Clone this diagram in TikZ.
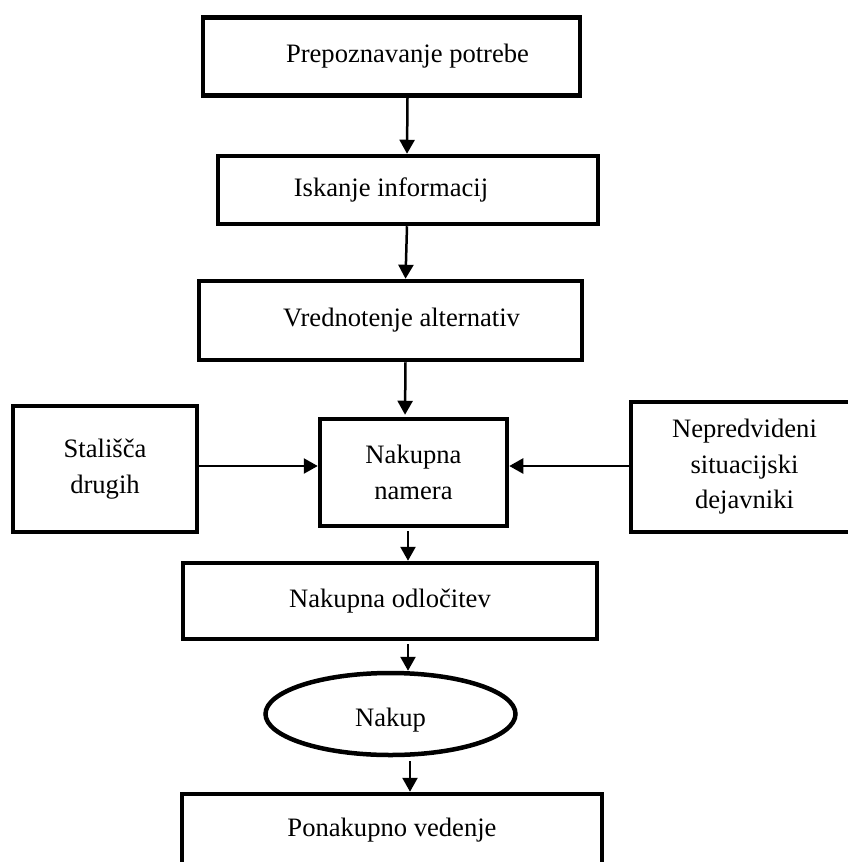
\documentclass[tikz,border=0pt]{standalone}
\usepackage{fontspec}
\setmainfont{Liberation Serif}
\usetikzlibrary{arrows.meta,shapes.geometric}
\begin{document}
\begin{tikzpicture}[x=1pt,y=-1pt,
  box/.style={draw, line width=4.5pt, inner sep=0pt, font=\fontsize{26.6pt}{35.5pt}\selectfont},
  mbox/.style={box, align=center},
  oval/.style={ellipse, draw, line width=4.5pt, inner sep=0pt, font=\fontsize{26.6pt}{35.5pt}\selectfont},
  arr/.style={line width=2.5pt, -{Triangle[length=14pt,width=15pt]}}]
\useasboundingbox (0,0) rectangle (848,862);
\clip (0,0) rectangle (848,862);
\fill[white] (0,0) rectangle (848,862);

\node[box, minimum width=377pt, minimum height=78pt] (b1) at (391.5,56.5) {\hspace*{32pt}Prepoznavanje potrebe};
\node[box, minimum width=380pt, minimum height=68pt] (b2) at (408,190) {Iskanje informacij\hspace*{34pt}};
\node[box, minimum width=383pt, minimum height=79pt] (b3) at (390.5,320.5) {\hspace*{22pt}Vrednotenje alternativ};
\node[mbox, minimum width=184pt, minimum height=126pt] (b4) at (105,469) {Stališča\\drugih};
\node[mbox, minimum width=187pt, minimum height=107pt] (b5) at (413.5,472.5) {Nakupna\\namera};
\node[mbox, minimum width=227pt, minimum height=130pt] (b6) at (744.5,467) {Nepredvideni\\situacijski\\dejavniki};
\node[box, minimum width=414pt, minimum height=76pt] (b7) at (390,601) {Nakupna odločitev};
\node[oval, minimum width=250pt, minimum height=82pt, text height=25.6pt, text depth=0pt] (e8) at (390.5,714) {Nakup};
\node[box, minimum width=420pt, minimum height=72pt] (b9) at (392,830) {Ponakupno vedenje};

\draw[arr] ([xshift=16pt]b1.south) -- ([xshift=-1pt]b2.north);
\draw[arr] ([xshift=-1pt]b2.south) -- ([xshift=15pt]b3.north);
\draw[arr, shorten >=2pt] ([xshift=15pt]b3.south) -- ([xshift=-8.5pt]b5.north);
\draw[arr] ([yshift=3pt]b4.east) -- ([yshift=6.5pt]b5.west);
\draw[arr] ([yshift=1pt]b6.west) -- ([yshift=6.5pt]b5.east);
\draw[arr, shorten <=3pt] ([xshift=-5.5pt]b5.south) -- ([xshift=18pt]b7.north);
\draw[arr, shorten <=3pt] ([xshift=18pt]b7.south) -- ([xshift=17.5pt]e8.north);
\draw[arr, shorten <=4pt] ([xshift=19.5pt]e8.south) -- ([xshift=18pt]b9.north);
\end{tikzpicture}
\end{document}
